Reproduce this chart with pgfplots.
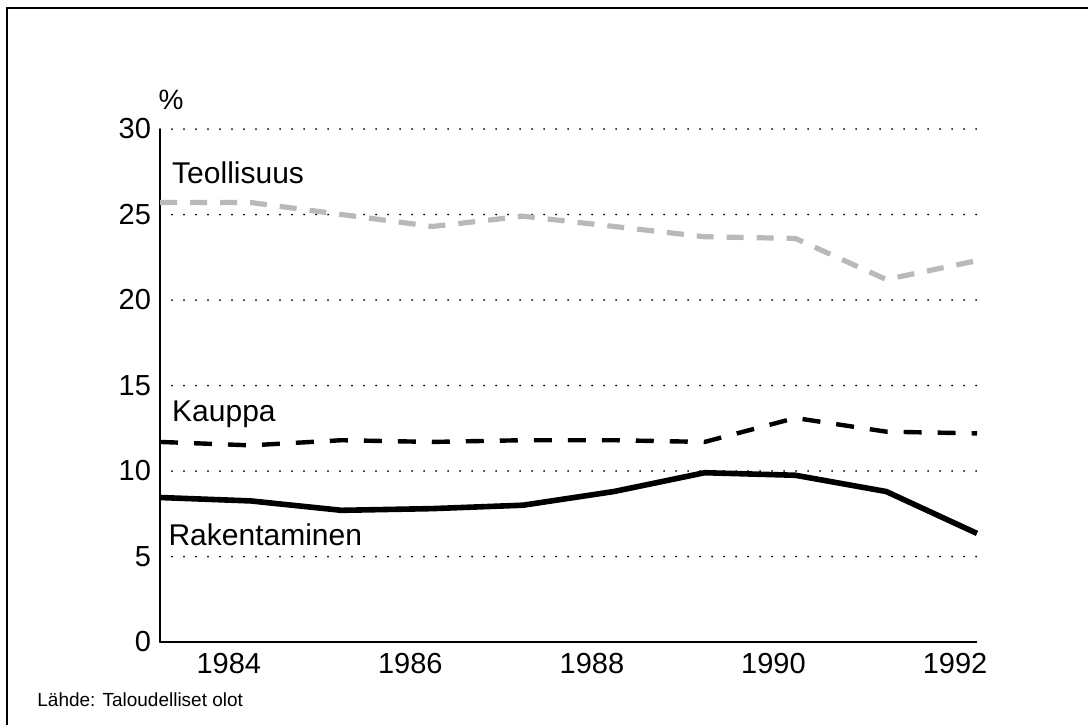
\documentclass[border=0pt]{standalone}
\usepackage{fontspec}
\setmainfont{Liberation Sans}
\usepackage{pgfplots}
\pgfplotsset{compat=1.18}
\begin{document}
\begin{tikzpicture}
\useasboundingbox (0,0) rectangle (544pt,362.5pt);
\draw[line width=1pt] (3.5pt,0) -- (3.5pt,358.5pt) -- (544pt,358.5pt);
\begin{axis}[
  scale only axis,
  width=408.5pt, height=256.5pt,
  at={(80pt,41.5pt)}, anchor=south west,
  xmin=1983, xmax=1992, ymin=0, ymax=30,
  axis x line*=bottom, axis y line*=left,
  axis line style={line width=1pt},
  xtick={1984,1986,1988,1990,1992},
  ytick={0,5,10,15,20,25,30},
  major tick length=0pt,
  xticklabel style={font=\fontsize{14.5}{16}\selectfont, xshift=-11pt, yshift=-2pt},
  yticklabel style={font=\fontsize{14.5}{16}\selectfont, xshift=-1pt},
  /pgf/number format/assume math mode=true,
  /pgf/number format/1000 sep={},
  ymajorgrids,
  major grid style={black, line width=1pt, line cap=round, dash pattern=on 0pt off 6pt},
  clip=false,
]
\addplot[gray!55, line width=2.6pt, dash pattern=on 8.5pt off 6.5pt] coordinates {
(1983,25.7) (1984,25.7) (1985,25.0) (1986,24.3) (1987,24.9) (1988,24.3) (1989,23.7) (1990,23.6) (1991,21.2) (1992,22.3)};
\addplot[black, line width=2.2pt, dash pattern=on 9pt off 8pt] coordinates {
(1983,11.7) (1984,11.5) (1985,11.8) (1986,11.7) (1987,11.8) (1988,11.8) (1989,11.7) (1990,13.1) (1991,12.3) (1992,12.2)};
\addplot[black, line width=2.8pt] coordinates {
(1983,8.45) (1984,8.25) (1985,7.7) (1986,7.8) (1987,8.0) (1988,8.8) (1989,9.9) (1990,9.75) (1991,8.8) (1992,6.35)};
\node[anchor=base west, font=\fontsize{15}{17}\selectfont, inner sep=0pt] at (axis cs:1983.13,26.84) {Teollisuus};
\node[anchor=base west, font=\fontsize{15}{17}\selectfont, inner sep=0pt] at (axis cs:1983.13,12.87) {Kauppa};
\node[anchor=base west, font=\fontsize{15}{17}\selectfont, inner sep=0pt] at (axis cs:1983.09,5.67) {Rakentaminen};
\end{axis}
\node[font=\fontsize{14}{16}\selectfont] at (85.5pt,312.5pt) {\%};
\node[anchor=base west, font=\fontsize{9.5}{11}\selectfont, inner sep=0pt] at (18.5pt,9.5pt) {Lähde: Taloudelliset olot};
\end{tikzpicture}
\end{document}
